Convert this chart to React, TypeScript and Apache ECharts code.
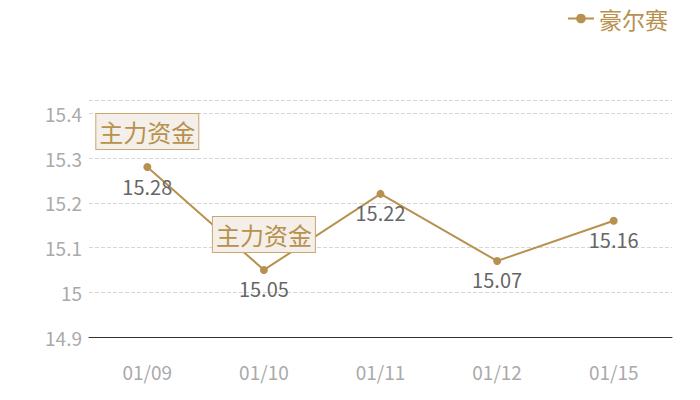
import React, { useEffect, useRef } from "react";
import * as echarts from "echarts";

const categories = ["01/09", "01/10", "01/11", "01/12", "01/15"];
const values = [15.28, 15.05, 15.22, 15.07, 15.16];
const seriesName = "豪尔赛";
const markIndices = [0, 1];
const markText = "主力资金";

const GOLD = "#b8914f";
const FONT = "Noto Sans CJK SC";

export default function App() {
  const ref = useRef<HTMLDivElement>(null);
  useEffect(() => {
    document.body.style.margin = "0";
    if (!ref.current) return;
    const chart = echarts.init(ref.current, null, { renderer: "svg" });
    chart.setOption({
      animation: false,
      textStyle: { fontFamily: FONT },
      legend: {
        data: [seriesName],
        right: 27,
        top: 2,
        itemWidth: 26,
        itemHeight: 12,
        itemGap: 4,
        textStyle: { color: GOLD, fontSize: 23, fontFamily: FONT },
      },
      grid: { left: 89, right: 28, top: 100, bottom: 63 },
      xAxis: {
        type: "category",
        data: categories,
        boundaryGap: true,
        axisLine: { show: true, lineStyle: { color: "#333", width: 1 } },
        axisTick: { show: false },
        axisLabel: { color: "#aaa", fontSize: 19, margin: 25, fontFamily: FONT },
      },
      yAxis: {
        type: "value",
        min: 14.9,
        max: 15.43,
        interval: 0.1,
        axisLine: { show: false },
        axisTick: { show: false },
        axisLabel: {
          color: "#aaa",
          fontSize: 19,
          margin: 7,
          fontFamily: FONT,
          showMaxLabel: false,
          formatter: (v: number) => String(Math.round(v * 10) / 10),
        },
        splitLine: { lineStyle: { color: "#d6d6d6", type: "dashed", width: 1 } },
      },
      series: [
        {
          name: seriesName,
          type: "line",
          data: values,
          symbol: "circle",
          symbolSize: 8,
          itemStyle: { color: GOLD },
          lineStyle: { color: GOLD, width: 2 },
          label: {
            show: true,
            position: "bottom",
            distance: 5,
            color: "#666",
            fontSize: 20,
            fontFamily: FONT,
          },
          markPoint: {
            symbol: "circle",
            symbolSize: 0,
            data: markIndices.map((i) => ({
              coord: [categories[i], values[i]],
              value: markText,
            })),
            label: {
              show: true,
              position: "top",
              distance: 18,
              formatter: markText,
              color: GOLD,
              fontSize: 24,
              fontFamily: FONT,
              lineHeight: 27,
              backgroundColor: "#f4efe9",
              borderColor: "#c9a672",
              borderWidth: 1,
              padding: [4, 3],
            },
          },
        },
      ],
    });
    return () => chart.dispose();
  }, []);
  return <div ref={ref} style={{ width: 700, height: 400 }} />;
}
